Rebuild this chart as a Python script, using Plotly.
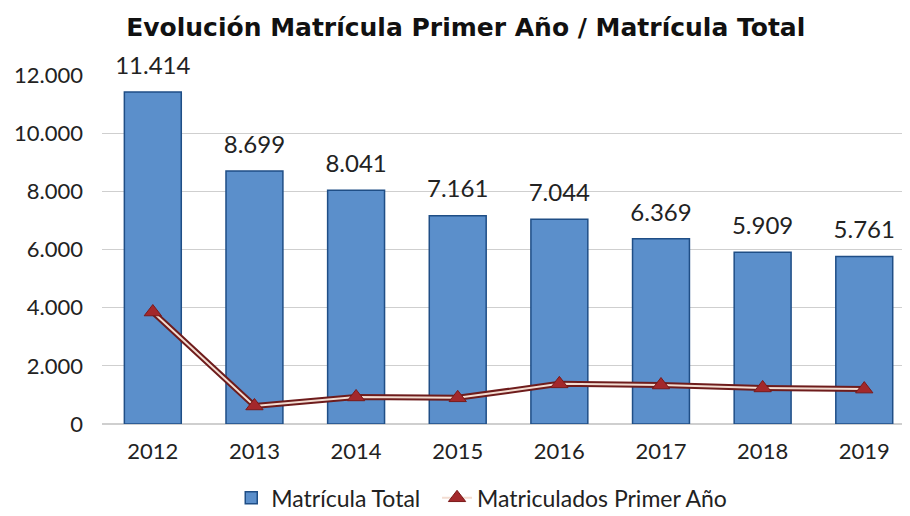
import plotly.graph_objects as go

# ---- data
years = ["2012", "2013", "2014", "2015", "2016", "2017", "2018", "2019"]
matricula_total = [11414, 8699, 8041, 7161, 7044, 6369, 5909, 5761]
primer_anio = [3850, 620, 930, 900, 1380, 1340, 1240, 1200]
y_ticks = [0, 2000, 4000, 6000, 8000, 10000, 12000]
y_tick_labels = ["0", "2.000", "4.000", "6.000", "8.000", "10.000", "12.000"]

def fmt(v):
	return "{:,}".format(v).replace(",", ".")

fig = go.Figure()

fig.add_trace(go.Bar(
	x = years,
	y = matricula_total,
	name = "Matrícula Total\u00a0\u00a0",
	marker = dict(color = "#5b8fcb", line = dict(color = "#1f4e86", width = 1.5)),
))

# value labels above the bars (invisible markers give the extra lift)
fig.add_trace(go.Scatter(
	x = years,
	y = matricula_total,
	mode = "markers+text",
	text = [fmt(v) for v in matricula_total],
	textposition = "top center",
	textfont = dict(size = 24, color = "#222222"),
	marker = dict(size = 18, opacity = 0),
	showlegend = False,
	hoverinfo = "skip",
	cliponaxis = False,
))

# outer dark line (double-line look)
fig.add_trace(go.Scatter(
	x = years,
	y = primer_anio,
	mode = "lines",
	line = dict(color = "#6e1c1c", width = 6),
	showlegend = False,
	hoverinfo = "skip",
))
fig.add_trace(go.Scatter(
	x = years,
	y = primer_anio,
	mode = "lines+markers",
	name = "Matriculados Primer Año",
	line = dict(color = "#f3ddd2", width = 2),
	marker = dict(symbol = "triangle-up", size = 15, color = "#a3282b", line = dict(color = "#7a1a1a", width = 1)),
))

fig.update_layout(
	width = 910,
	height = 516,
	margin = dict(l = 94, r = 8, t = 67, b = 100, autoexpand = False),
	paper_bgcolor = "white",
	plot_bgcolor = "white",
	font = dict(family = "Lato, Open Sans, sans-serif", size = 22, color = "#222222"),
	title = dict(
		text = "<b>Evolución Matrícula Primer Año / Matrícula Total</b>",
		x = 0.503,
		xanchor = "center",
		y = 0.963,
		yanchor = "middle",
		font = dict(family = "DejaVu Sans, sans-serif", size = 25, color = "#111111"),
	),
	bargap = 0.44,
	legend = dict(
		orientation = "h",
		x = 0.47,
		xanchor = "center",
		y = -0.15,
		yanchor = "top",
		font = dict(size = 23),
	),
)
fig.update_xaxes(
	range = [-0.5, 7.45],
	showgrid = False,
	showline = False,
	ticks = "",
	tickfont = dict(size = 22),
	ticklabelstandoff = 12,
	automargin = False,
)
fig.update_yaxes(
	range = [0, 12000],
	tickvals = y_ticks,
	ticktext = y_tick_labels,
	showgrid = True,
	gridcolor = "#cfcfcf",
	gridwidth = 1,
	zeroline = True,
	zerolinecolor = "#cfcfcf",
	tickfont = dict(size = 22),
	ticklabelstandoff = 18,
	automargin = False,
)

fig.write_html("out.html")
